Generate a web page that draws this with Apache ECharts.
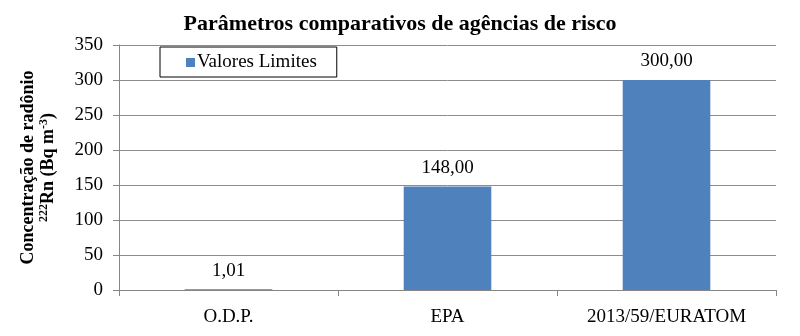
<!DOCTYPE html>
<html><head><meta charset="utf-8">
<script src="https://cdn.jsdelivr.net/npm/echarts@6/dist/echarts.min.js"></script>
<style>html,body{margin:0;padding:0;background:#fff}#c{width:800px;height:336px}</style>
</head><body><div id="c"></div>
<script>
var categories = ['O.D.P.', 'EPA', '2013/59/EURATOM'];
var values = [1.01, 148, 300];
var seriesName = 'Valores Limites';
var titleText = 'Parâmetros comparativos de agências de risco';
var yTicks = {min: 0, max: 350, interval: 50};

var F = '"Liberation Serif", "Times New Roman", serif';
var chart = echarts.init(document.getElementById('c'));
chart.setOption({
  animation: false,
  textStyle: {fontFamily: F},
  title: {text: titleText, left: 'center', top: 8,
    textStyle: {fontFamily: F, fontSize: 22, fontWeight: 'bold', color: '#000'}},
  legend: {data: [seriesName], left: 160, top: 47, itemWidth: 9, itemHeight: 9, itemGap: 4,
    borderColor: '#000', borderWidth: 1, padding: [6, 20, 5, 26],
    icon: 'rect', textStyle: {fontFamily: F, fontSize: 19, color: '#000', padding: [0,0,0,-3]}},
  grid: {left: 119, right: 24, top: 45, bottom: 46, containLabel: false, outerBoundsMode: 'none'},
  xAxis: {type: 'category', data: categories,
    axisLine: {lineStyle: {color: '#868686'}},
    axisTick: {show: true, length: 6, lineStyle: {color: '#868686'}},
    axisLabel: {fontFamily: F, fontSize: 19, color: '#000', margin: 18}},
  yAxis: {type: 'value', min: yTicks.min, max: yTicks.max, interval: yTicks.interval,
    name: '{b|Concentração de radônio}\n{s|222}{b|Rn (Bq m}{s|-3}{b|)}',
    nameLocation: 'middle', nameGap: 61, nameRotate: 90,
    nameTextStyle: {rich: {
      b: {fontFamily: F, fontSize: 18, fontWeight: 'bold', color: '#000', lineHeight: 20},
      s: {fontFamily: F, fontSize: 12, fontWeight: 'bold', color: '#000', lineHeight: 20, verticalAlign: 'top', padding:[0,0,6,0]}
    }},
    axisLine: {show: true, lineStyle: {color: '#868686'}},
    axisTick: {show: true, length: 6, lineStyle: {color: '#868686'}},
    splitLine: {lineStyle: {color: '#8c8c8c', width: 1}},
    axisLabel: {fontFamily: F, fontSize: 19, color: '#000', margin: 16}},
  series: [{name: seriesName, type: 'bar', data: values, barWidth: '40%',
    itemStyle: {color: '#4F81BD'},
    label: {show: true, position: 'top', distance: 9, fontFamily: F, fontSize: 19, color: '#000',
      formatter: function(p){ return p.value.toFixed(2).replace('.', ','); }}}]
});
</script></body></html>
